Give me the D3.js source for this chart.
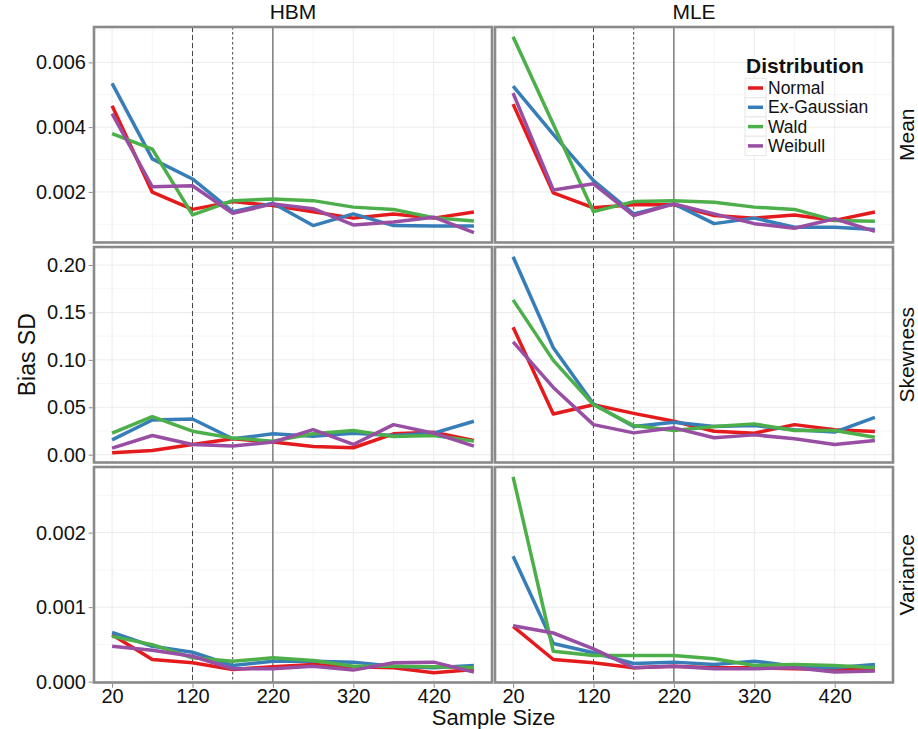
<!DOCTYPE html>
<html>
<head>
<meta charset="utf-8">
<script src="https://cdn.jsdelivr.net/npm/d3@7"></script>
<style>
  body { margin: 0; background: white; }
  text { font-family: "Liberation Sans", Arial, sans-serif; }
</style>
</head>
<body>
<div id="chart"></div>
<script>
// sample sizes on the x axis
const sampleSizes = [20, 70, 120, 170, 220, 270, 320, 370, 420, 470];
const xTicks = [20, 120, 220, 320, 420];
const distributions = ["Normal", "Ex-Gaussian", "Wald", "Weibull"];
const colors = ["#E41A1C", "#377EB8", "#4DAF4A", "#984EA3"];
const methods = ["HBM", "MLE"];
const measures = ["Mean", "Skewness", "Variance"];
const refLines = [120, 170, 220];

// one array per distribution, in the order above
const hbmMean = [
  [0.00466, 0.00199, 0.00146, 0.00170, 0.00158, 0.00139, 0.00119, 0.00132, 0.00119, 0.00138],
  [0.00535, 0.00302, 0.00240, 0.00139, 0.00165, 0.00096, 0.00132, 0.00096, 0.00095, 0.00095],
  [0.00380, 0.00332, 0.00129, 0.00173, 0.00178, 0.00173, 0.00153, 0.00146, 0.00120, 0.00110],
  [0.00442, 0.00216, 0.00219, 0.00134, 0.00163, 0.00148, 0.00098, 0.00107, 0.00122, 0.00074]
];
const mleMean = [
  [0.00471, 0.00197, 0.00151, 0.00160, 0.00160, 0.00127, 0.00119, 0.00129, 0.00112, 0.00138],
  [0.00527, 0.00378, 0.00235, 0.00132, 0.00163, 0.00102, 0.00119, 0.00091, 0.00091, 0.00084],
  [0.00679, 0.00409, 0.00139, 0.00170, 0.00173, 0.00168, 0.00153, 0.00146, 0.00112, 0.00109],
  [0.00505, 0.00206, 0.00225, 0.00127, 0.00163, 0.00132, 0.00102, 0.00088, 0.00117, 0.00078]
];
const hbmSkew = [
  [0.0021, 0.0045, 0.0108, 0.0168, 0.0133, 0.0087, 0.0073, 0.0220, 0.0238, 0.0150],
  [0.0157, 0.0366, 0.0377, 0.0168, 0.0220, 0.0195, 0.0227, 0.0202, 0.0227, 0.0353],
  [0.0227, 0.0401, 0.0248, 0.0175, 0.0143, 0.0220, 0.0255, 0.0192, 0.0202, 0.0143],
  [0.0070, 0.0202, 0.0108, 0.0091, 0.0133, 0.0265, 0.0108, 0.0317, 0.0227, 0.0091]
];
const mleSkew = [
  [0.1344, 0.0429, 0.0527, 0.0436, 0.0353, 0.0248, 0.0227, 0.0317, 0.0262, 0.0244],
  [0.2087, 0.1127, 0.0534, 0.0297, 0.0342, 0.0297, 0.0307, 0.0262, 0.0238, 0.0394],
  [0.1633, 0.0995, 0.0527, 0.0307, 0.0255, 0.0297, 0.0325, 0.0255, 0.0255, 0.0185],
  [0.1190, 0.0709, 0.0317, 0.0230, 0.0283, 0.0178, 0.0209, 0.0168, 0.0108, 0.0150]
];
const hbmVar = [
  [0.000631, 0.000297, 0.000253, 0.000164, 0.000200, 0.000231, 0.000200, 0.000187, 0.000120, 0.000164],
  [0.000662, 0.000475, 0.000395, 0.000217, 0.000275, 0.000275, 0.000262, 0.000208, 0.000187, 0.000217],
  [0.000608, 0.000497, 0.000320, 0.000275, 0.000320, 0.000284, 0.000208, 0.000208, 0.000200, 0.000187],
  [0.000475, 0.000421, 0.000341, 0.000173, 0.000173, 0.000208, 0.000155, 0.000253, 0.000262, 0.000128]
];
const mleVar = [
  [0.000741, 0.000297, 0.000253, 0.000187, 0.000208, 0.000187, 0.000187, 0.000173, 0.000164, 0.000164],
  [0.001684, 0.000511, 0.000387, 0.000244, 0.000262, 0.000231, 0.000275, 0.000208, 0.000187, 0.000231],
  [0.002750, 0.000408, 0.000351, 0.000351, 0.000351, 0.000307, 0.000217, 0.000231, 0.000217, 0.000187],
  [0.000751, 0.000653, 0.000440, 0.000187, 0.000208, 0.000173, 0.000173, 0.000187, 0.000128, 0.000142]
];

const yTicks = [[0.002, 0.004, 0.006], [0, 0.05, 0.10, 0.15, 0.20], [0, 0.001, 0.002]];
const yFormats = [".3f", ".2f", ".3f"];

const panels = [[hbmMean, mleMean], [hbmSkew, mleSkew], [hbmVar, mleVar]];

const width = 918, height = 729;
const colLeft = [94, 495], panelW = 398;
const rowTop = [27, 247, 467], panelH = 215.5;

const svg = d3.select("#chart").append("svg")
  .attr("width", width).attr("height", height);

const x = d3.scaleLinear()
  .domain([20 - 22.5, 470 + 22.5])
  .range([0, panelW]);

// shared y scale per row (free_y), 5% expansion like ggplot
const yScales = panels.map(function (row) {
  let all = row.flat(2);
  let ext = d3.extent(all);
  let pad = (ext[1] - ext[0]) * 0.05;
  return d3.scaleLinear().domain([ext[0] - pad, ext[1] + pad]).range([panelH, 0]);
});

const line = d3.line().x(function (d, i) { return x(sampleSizes[i]); });

panels.forEach(function (row, r) {
  let y = yScales[r];
  let majors = yTicks[r];
  let step = majors[1] - majors[0];
  let minors = [];
  for (let v = majors[0] - step / 2; v <= y.domain()[1]; v += step)
    if (v >= y.domain()[0]) minors.push(v);

  row.forEach(function (series, c) {
    let g = svg.append("g")
      .attr("transform", "translate(" + colLeft[c] + "," + rowTop[r] + ")");

    g.append("rect").attr("width", panelW).attr("height", panelH).attr("fill", "white");

    // minor grid
    g.selectAll(".minx").data(sampleSizes.filter(function (s) { return xTicks.indexOf(s) < 0; }))
      .enter().append("line")
      .attr("x1", function (d) { return x(d); }).attr("x2", function (d) { return x(d); })
      .attr("y1", 0).attr("y2", panelH)
      .attr("stroke", "#f4f4f4").attr("stroke-width", 0.8);
    g.selectAll(".miny").data(minors).enter().append("line")
      .attr("x1", 0).attr("x2", panelW)
      .attr("y1", function (d) { return y(d); }).attr("y2", function (d) { return y(d); })
      .attr("stroke", "#f4f4f4").attr("stroke-width", 0.8);
    // major grid
    g.selectAll(".majx").data(xTicks).enter().append("line")
      .attr("x1", function (d) { return x(d); }).attr("x2", function (d) { return x(d); })
      .attr("y1", 0).attr("y2", panelH)
      .attr("stroke", "#ebebeb").attr("stroke-width", 1);
    g.selectAll(".majy").data(majors).enter().append("line")
      .attr("x1", 0).attr("x2", panelW)
      .attr("y1", function (d) { return y(d); }).attr("y2", function (d) { return y(d); })
      .attr("stroke", "#ebebeb").attr("stroke-width", 1);

    // reference lines
    g.selectAll(".ref").data(refLines).enter().append("line")
      .attr("x1", function (d) { return x(d); }).attr("x2", function (d) { return x(d); })
      .attr("y1", 0).attr("y2", panelH)
      .attr("stroke", "#444").attr("stroke-width", 1)
      .attr("stroke-dasharray", function (d, i) { return i == 0 ? "5,3" : (i == 1 ? "2.5,2.5" : null); });

    g.selectAll(".series").data(series).enter().append("path")
      .attr("d", line.y(function (d) { return y(d); }))
      .attr("fill", "none")
      .attr("stroke", function (d, i) { return colors[i]; })
      .attr("stroke-width", 3.5)
      .attr("stroke-linejoin", "round");

    g.append("rect").attr("width", panelW).attr("height", panelH)
      .attr("fill", "none").attr("stroke", "#8a8a8a").attr("stroke-width", 2.6);

    // y axis only for the first column
    if (c == 0) {
      let ax = g.append("g").call(d3.axisLeft(y).tickValues(majors).tickFormat(d3.format(yFormats[r])).tickSize(4).tickPadding(3));
      ax.select(".domain").remove();
      ax.selectAll("line").attr("stroke", "#8a8a8a").attr("transform", "translate(-1.3,0)");
      ax.selectAll("text").attr("font-size", 20).attr("fill", "#111")
        .attr("font-family", "Liberation Sans, Arial, sans-serif").attr("dx", -1);
    }
    if (r == 2) {
      let ax = g.append("g").attr("transform", "translate(0," + panelH + ")")
        .call(d3.axisBottom(x).tickValues(xTicks).tickFormat(d3.format("d")).tickSize(4).tickPadding(2));
      ax.select(".domain").remove();
      ax.selectAll("line").attr("stroke", "#8a8a8a").attr("transform", "translate(0,1.3)");
      ax.selectAll("text").attr("font-size", 20).attr("fill", "#111")
        .attr("font-family", "Liberation Sans, Arial, sans-serif");
    }
    if (r == 0) {
      svg.append("text").attr("x", colLeft[c] + panelW / 2).attr("y", 19)
        .attr("text-anchor", "middle").attr("font-size", 21).attr("fill", "#111")
        .text(methods[c]);
    }
  });

  svg.append("text")
    .attr("transform", "translate(906," + (rowTop[r] + panelH / 2) + ") rotate(-90)")
    .attr("text-anchor", "middle").attr("dominant-baseline", "central")
    .attr("font-size", 21).attr("fill", "#111")
    .text(measures[r]);
});

// axis titles
svg.append("text").attr("x", (colLeft[0] + colLeft[1] + panelW) / 2).attr("y", 725)
  .attr("text-anchor", "middle").attr("font-size", 22).attr("fill", "#111")
  .text("Sample Size");
svg.append("text")
  .attr("transform", "translate(35," + (rowTop[1] + panelH / 2) + ") rotate(-90)")
  .attr("text-anchor", "middle").attr("font-size", 23).attr("fill", "#111")
  .text("Bias SD");

// legend inside the top right panel
const legend = svg.append("g").attr("transform", "translate(745,0)");
legend.append("text").attr("x", 1).attr("y", 73)
  .attr("font-size", 21).attr("font-weight", "bold").attr("fill", "#111")
  .text("Distribution");
const keyH = 19.3;
distributions.forEach(function (name, i) {
  let cy = 88 + i * keyH;
  legend.append("rect").attr("x", 0).attr("y", cy - keyH / 2).attr("width", 21).attr("height", keyH)
    .attr("fill", "white").attr("stroke", "#e6e6e6").attr("stroke-width", 1);
  legend.append("line").attr("x1", 3).attr("x2", 18).attr("y1", cy).attr("y2", cy)
    .attr("stroke", colors[i]).attr("stroke-width", 3.5);
  legend.append("text").attr("x", 23).attr("y", cy).attr("dominant-baseline", "central")
    .attr("font-size", 17.5).attr("fill", "#111").text(name);
});
</script>
</body>
</html>
